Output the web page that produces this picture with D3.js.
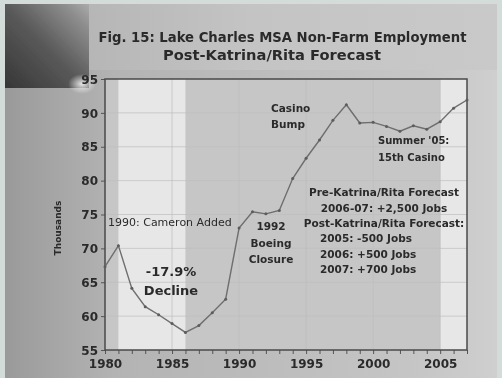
<!DOCTYPE html>
<html>
<head>
<meta charset="utf-8">
<script src="https://cdn.jsdelivr.net/npm/d3@7"></script>
<style>
  html, body { margin: 0; padding: 0; background: #d4dcd9; }
  svg { display: block; }
  text { font-family: "DejaVu Sans", Verdana, sans-serif; fill: #2a2a2a; }
</style>
</head>
<body>
<svg id="chart" width="502" height="378"></svg>
<script>
// Lake Charles MSA non-farm employment, thousands of jobs
const years = [1980,1981,1982,1983,1984,1985,1986,1987,1988,1989,1990,1991,1992,1993,
               1994,1995,1996,1997,1998,1999,2000,2001,2002,2003,2004,2005,2006,2007];
const employment = [67.3,70.4,64.1,61.4,60.2,58.9,57.6,58.6,60.5,62.5,73.0,75.4,75.1,75.6,
                    80.3,83.3,86.0,88.9,91.2,88.5,88.6,88.0,87.3,88.1,87.6,88.7,90.7,91.9];
const xTicks = [1980,1985,1990,1995,2000,2005];
const yTicks = [55,60,65,70,75,80,85,90,95];
// light-shaded periods
const lightBands = [[1981,1986],[2005,2007]];

const titleLines = ["Fig. 15:  Lake Charles MSA Non-Farm Employment", "Post-Katrina/Rita Forecast"];
const forecastHead = ["Pre-Katrina/Rita Forecast", "2006-07:  +2,500 Jobs", "Post-Katrina/Rita Forecast:"];
const forecastYears = ["2005:   -500 Jobs", "2006:  +500 Jobs", "2007:  +700 Jobs"];

const svg = d3.select("#chart");
const W = 502, H = 378;
const m = {left: 105, right: 467, top: 79, bottom: 350};

const defs = svg.append("defs");
function linGrad(id, stops, x1 = 0, y1 = 0, x2 = 1, y2 = 0) {
  const lg = defs.append("linearGradient").attr("id", id)
    .attr("x1", x1).attr("y1", y1).attr("x2", x2).attr("y2", y2);
  stops.forEach(([o, c]) => lg.append("stop").attr("offset", o).attr("stop-color", c));
}
linGrad("bg", [[0, "#9a9a9a"], [0.22, "#b3b3b3"], [0.85, "#c6c6c6"], [1, "#cfcfcf"]]);
linGrad("topband", [[0, "#b6b6b6"], [0.4, "#c4c4c4"], [1, "#c9c9c9"]]);
linGrad("corner", [[0, "#363636"], [0.5, "#5a5a5a"], [0.85, "#8e8e8e"], [1, "#ababab"]], 0, 1, 1, 0);
const glow = defs.append("radialGradient").attr("id", "glow");
glow.append("stop").attr("offset", 0).attr("stop-color", "#eeeeee").attr("stop-opacity", 0.95);
glow.append("stop").attr("offset", 1).attr("stop-color", "#eeeeee").attr("stop-opacity", 0);
defs.append("filter").attr("id", "soft").append("feGaussianBlur").attr("stdDeviation", 0.5);

const g = svg.append("g").attr("filter", "url(#soft)");

// slide background
g.append("rect").attr("x", 5).attr("y", 4).attr("width", W - 10).attr("height", H - 4).attr("fill", "url(#bg)");
g.append("rect").attr("x", 88).attr("y", 4).attr("width", W - 93).attr("height", 66).attr("fill", "url(#topband)");
g.append("rect").attr("x", 5).attr("y", 4).attr("width", 84).attr("height", 84).attr("fill", "url(#corner)");
g.append("ellipse").attr("cx", 82).attr("cy", 84).attr("rx", 14).attr("ry", 10).attr("fill", "url(#glow)");

const x = d3.scaleLinear().domain([1980, 2007]).range([m.left, m.right]);
const y = d3.scaleLinear().domain([55, 95]).range([m.bottom, m.top]);

// plot background and shaded periods
g.append("rect").attr("x", m.left).attr("y", m.top).attr("width", m.right - m.left)
  .attr("height", m.bottom - m.top).attr("fill", "#c6c6c6");
g.selectAll("rect.band").data(lightBands).join("rect").attr("class", "band")
  .attr("x", d => x(d[0])).attr("y", m.top).attr("width", d => x(d[1]) - x(d[0]))
  .attr("height", m.bottom - m.top).attr("fill", "#e7e7e7");

// faint grid
g.selectAll("line.hg").data(yTicks.slice(1, -1)).join("line").attr("class", "hg")
  .attr("x1", m.left).attr("x2", m.right).attr("y1", d => y(d)).attr("y2", d => y(d))
  .attr("stroke", "#bdbdbd").attr("stroke-width", 0.7);
g.selectAll("line.vg").data(xTicks.slice(1)).join("line").attr("class", "vg")
  .attr("y1", m.top).attr("y2", m.bottom).attr("x1", d => x(d)).attr("x2", d => x(d))
  .attr("stroke", "#bdbdbd").attr("stroke-width", 0.7);

// axes
const yAxis = g.append("g").attr("transform", `translate(${m.left},0)`)
  .call(d3.axisLeft(y).tickValues(yTicks).tickSize(4).tickPadding(3));
const xAxis = g.append("g").attr("transform", `translate(0,${m.bottom})`)
  .call(d3.axisBottom(x).tickValues(d3.range(1980, 2008)).tickSize(4).tickPadding(3)
    .tickFormat(d => xTicks.includes(d) ? d : ""));
[yAxis, xAxis].forEach(a => {
  a.select(".domain").remove();
  a.selectAll("line").attr("stroke", "#555");
  a.selectAll("text").attr("font-size", 12).attr("font-weight", "bold").attr("fill", "#2a2a2a")
    .style("font-family", "'DejaVu Sans', Verdana, sans-serif");
});
xAxis.selectAll("text").attr("dy", "0.95em");
yAxis.selectAll("text").attr("dy", "0.35em");

// frame
g.append("rect").attr("x", m.left).attr("y", m.top).attr("width", m.right - m.left)
  .attr("height", m.bottom - m.top).attr("fill", "none").attr("stroke", "#4a4a4a").attr("stroke-width", 1.5);

// series
const line = d3.line().x((d, i) => x(years[i])).y(d => y(d));
g.append("path").datum(employment).attr("d", line).attr("fill", "none")
  .attr("stroke", "#6e6e6e").attr("stroke-width", 1.4);
g.selectAll("circle.pt").data(employment).join("circle").attr("class", "pt")
  .attr("cx", (d, i) => x(years[i])).attr("cy", d => y(d)).attr("r", 1.5).attr("fill", "#5c5c5c");

// title
g.selectAll("text.title").data(titleLines).join("text").attr("class", "title")
  .attr("x", (d, i) => i ? 272 : 282.5).attr("y", (d, i) => 42 + i * 18).attr("text-anchor", "middle")
  .attr("font-size", 13.5).attr("font-weight", "bold")
  .attr("textLength", (d, i) => i ? 218 : 368).attr("lengthAdjust", "spacingAndGlyphs")
  .text(d => d);

// y-axis label
g.append("text").attr("transform", "translate(61,228) rotate(-90)").attr("text-anchor", "middle")
  .attr("font-size", 9).attr("font-weight", "bold").text("Thousands");

// annotations
function note(lines, x0, y0, anchor, size, weight, step) {
  g.append("g").selectAll("text").data(lines).join("text")
    .attr("x", x0).attr("y", (d, i) => y0 + i * step).attr("text-anchor", anchor)
    .attr("font-size", size).attr("font-weight", weight).text(d => d);
}
note(["1990: Cameron Added"], 108, 226, "start", 11, "normal", 0);
note(["-17.9%", "Decline"], 171, 276, "middle", 13, "bold", 19);
note(["1992", "Boeing", "Closure"], 271, 230, "middle", 10.5, "bold", 16.5);
note(["Casino", "Bump"], 271, 112, "start", 10.5, "bold", 16);
note(["Summer '05:", "15th Casino"], 378, 144, "start", 10, "bold", 17);
note(forecastHead, 384, 196, "middle", 10.5, "bold", 15.5);
note(forecastYears, 320, 242, "start", 10.5, "bold", 15.5);
</script>
</body>
</html>
